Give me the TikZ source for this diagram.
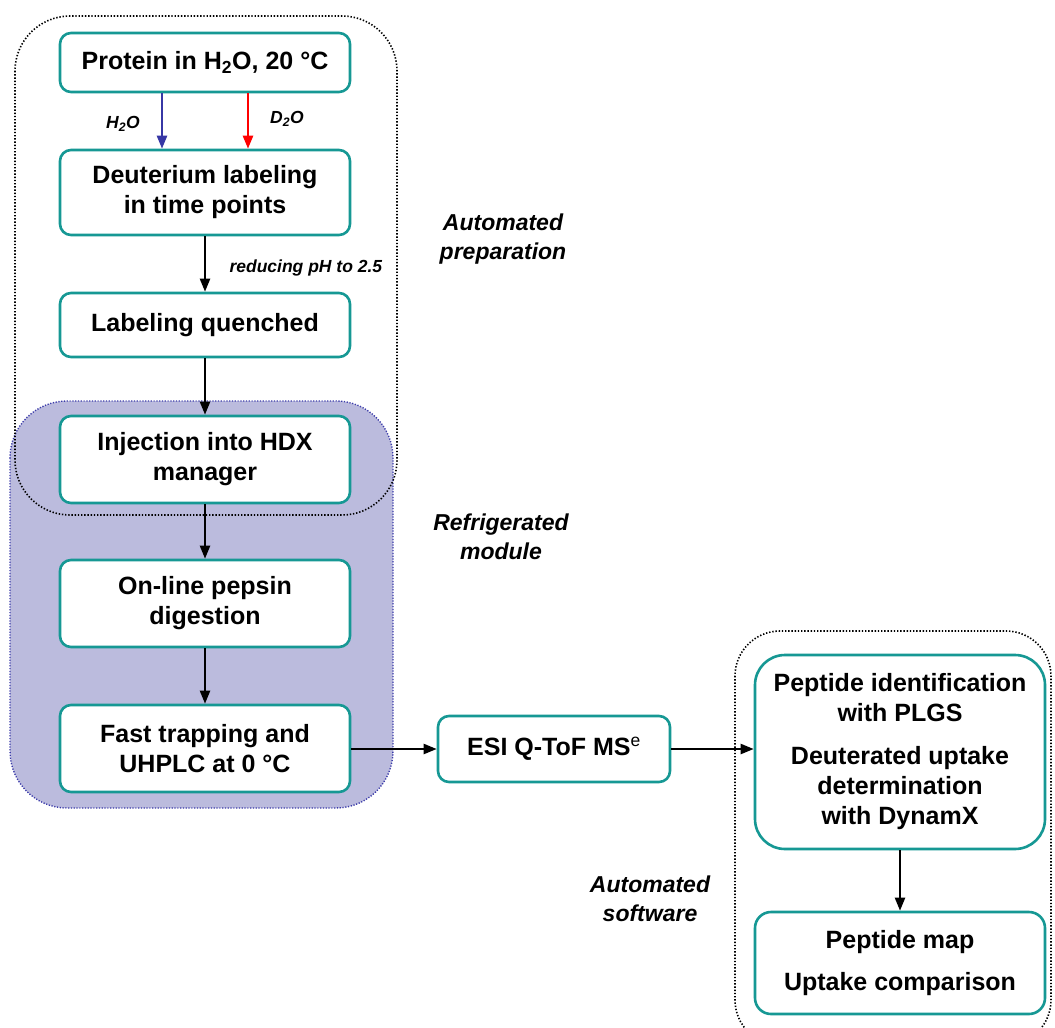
\documentclass[tikz,border=0pt]{standalone}
\usepackage{fontspec}
\setmainfont{Liberation Sans}
\usetikzlibrary{arrows.meta}
\definecolor{tealb}{RGB}{22,152,148}
\definecolor{modfill}{RGB}{187,187,221}
\definecolor{modline}{RGB}{60,60,170}
\definecolor{arrblue}{RGB}{55,55,165}
\begin{document}
\begin{tikzpicture}[x=1pt,y=-1pt,
  box/.style={draw=tealb, line width=2.6pt, fill=white, rounded corners=11pt,
    minimum width=290pt, inner sep=0pt, align=center,
    font=\fontsize{25}{30}\selectfont\bfseries},
  lbl/.style={font=\fontsize{23}{29}\selectfont\bfseries\itshape, align=center},
  sml/.style={font=\fontsize{17.5}{20}\selectfont\bfseries\itshape},
  arr/.style={line width=2.2pt, -{Triangle[length=13pt,width=10pt]}},
  dotbox/.style={line width=1.6pt, dash pattern=on 1.4pt off 1.8pt}
]
\clip (0,0) rectangle (1055,1028);
\fill[white] (0,0) rectangle (1055,1028);

% refrigerated module
\path[fill=modfill, draw=modline, line width=1.4pt, dash pattern=on 1.2pt off 1.6pt, rounded corners=57pt]
  (10,401) rectangle (393,808);
% automated preparation box
\draw[dotbox, rounded corners=55pt] (15,16) rectangle (397,515);
% automated software box
\draw[dotbox, rounded corners=45pt] (735,631) rectangle (1051,1045);

% boxes
\node[box, minimum height=59pt] (p) at (205,62.5) {Protein in H\textsubscript{2}O, 20 °C};
\node[box, minimum height=85pt] (d) at (205,192.5) {Deuterium labeling\\in time points};
\node[box, minimum height=64pt] (q) at (205,325) {Labeling quenched};
\node[box, minimum height=87pt] (i) at (205,459.5) {Injection into HDX\\manager};
\node[box, minimum height=87pt] (o) at (205,603.5) {On-line pepsin\\digestion};
\node[box, minimum height=87pt] (f) at (205,748.5) {Fast trapping and\\UHPLC at 0 °C};
\node[box, minimum width=232pt, minimum height=66pt] (e) at (554,749) {ESI Q-ToF MS\textsuperscript{\normalfont e}};
\node[box, rounded corners=30pt, minimum height=194pt] (s) at (900,752) {Peptide identification\\with PLGS\\[13pt]Deuterated uptake\\determination\\with DynamX};
\node[box, rounded corners=16pt, minimum height=102pt] (m) at (900,963) {Peptide map\\[12pt]Uptake comparison};

% connectors
\draw[line width=2.4pt, arrblue, -{Triangle[length=13pt,width=10pt]}] (p.south -| 162,0) -- (d.north -| 162,0);
\draw[line width=2.4pt, red, -{Triangle[length=13pt,width=10pt]}] (p.south -| 248,0) -- (d.north -| 248,0);
\draw[arr] (d) -- (q);
\draw[arr] (q) -- (i);
\draw[arr] (i) -- (o);
\draw[arr] (o) -- (f);
\draw[arr] (f.east |- e) -- (e.west);
\draw[arr] (e.east) -- (s.west |- e);
\draw[arr] (s) -- (m);

% labels
\node[sml] (lh) at (123,124) {H\textsubscript{2}O};
\node[sml] (ld) at (287,119) {D\textsubscript{2}O};
\node[sml, anchor=west] (lr) at (226,268) {reducing pH to 2.5};
\node[lbl] (la) at (503,239) {Automated\\preparation};
\node[lbl] (lm) at (501,537) {Refrigerated\\module};
\node[lbl] (ls) at (650,899) {Automated\\software};
\end{tikzpicture}
\end{document}
